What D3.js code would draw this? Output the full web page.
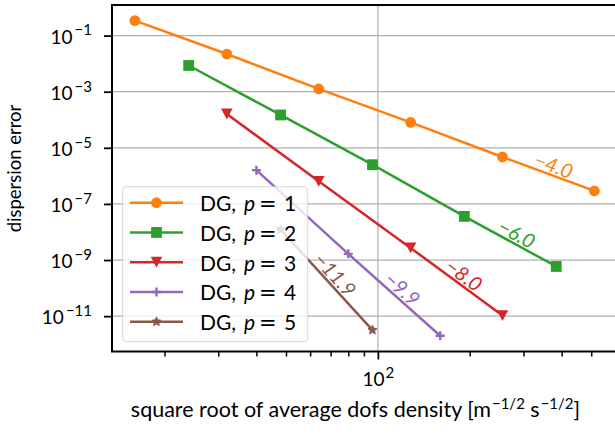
<!DOCTYPE html>
<html>
<head>
<meta charset="utf-8">
<script src="https://cdn.jsdelivr.net/npm/d3@7"></script>
<style>
body { margin: 0; background: #fff; }
text { font-family: Lato, "DejaVu Sans", sans-serif; fill: #000; }
</style>
</head>
<body>
<svg id="chart" width="615" height="435"></svg>
<script>
// values
const orders = [1, 2, 3, 4, 5];
const dofsP1 = [16, 32, 64, 128, 256, 512];
const errP1 = [3.4e-1, 2.2e-2, 1.26e-3, 8.1e-5, 4.7e-6, 2.9e-7];
const dofsP2 = [24, 48, 96, 192, 384];
const errP2 = [8.6e-3, 1.48e-4, 2.5e-6, 3.6e-8, 5.9e-10];
const dofsP3 = [32, 64, 128, 256];
const errP3 = [1.6e-4, 6.4e-7, 2.7e-9, 1.05e-11];
const dofsP4 = [40, 80, 160];
const errP4 = [1.6e-6, 1.66e-9, 2.0e-12];
const dofsP5 = [48, 96];
const errP5 = [1.23e-8, 3.2e-12];
const slopeLabels = ["\u22124.0", "\u22126.0", "\u22128.0", "\u22129.9", "\u221211.9"];
const yTickExps = [-1, -3, -5, -7, -9, -11];
const xTickExps = [2];
const xMinorTicks = [20, 30, 40, 50, 60, 70, 80, 90, 200, 300, 400, 500];

const colors = ["#ff7f0e", "#2ca02c", "#d62728", "#9467bd", "#8c564b"];
const markers = ["circle", "square", "tridown", "plus", "star"];

const dofs = [dofsP1, dofsP2, dofsP3, dofsP4, dofsP5];
const errs = [errP1, errP2, errP3, errP4, errP5];

const pLeft = 112, pRight = 617.5, pTop = 5, pBottom = 351.5;

const svg = d3.select("#chart");

const x = d3.scaleLog().domain([Math.pow(10, 1.129), Math.pow(10, 2.785)]).range([pLeft, pRight]);
const y = d3.scaleLog().domain([Math.pow(10, -12.26), Math.pow(10, 0.09)]).range([pBottom, pTop]);

// grid
const grid = svg.append("g");
grid.selectAll("line.gy").data(yTickExps).enter().append("line")
    .attr("x1", pLeft).attr("x2", pRight)
    .attr("y1", d => y(Math.pow(10, d))).attr("y2", d => y(Math.pow(10, d)))
    .attr("stroke", "#b0b0b0").attr("stroke-width", 1.2);
grid.selectAll("line.gx").data(xTickExps).enter().append("line")
    .attr("y1", pTop).attr("y2", pBottom)
    .attr("x1", d => x(Math.pow(10, d))).attr("x2", d => x(Math.pow(10, d)))
    .attr("stroke", "#b0b0b0").attr("stroke-width", 1.2);

function drawMarker(g, kind, color) {
    if (kind === "circle") {
        g.append("circle").attr("r", 5.4).attr("fill", color);
    } else if (kind === "square") {
        g.append("rect").attr("x", -5.4).attr("y", -5.4).attr("width", 10.8).attr("height", 10.8).attr("fill", color);
    } else if (kind === "tridown") {
        g.append("path").attr("d", "M-5.8,-5.4L5.8,-5.4L0,5.4Z").attr("fill", color);
    } else if (kind === "plus") {
        g.append("path").attr("d", "M-4.5,0H4.5M0,-4.5V4.5").attr("stroke", color).attr("stroke-width", 2.4);
    } else {
        const pts = [];
        for (let i = 0; i < 10; i++) {
            const r = i % 2 === 0 ? 4.8 : 2.2;
            const a = -Math.PI / 2 + i * Math.PI / 5;
            pts.push([r * Math.cos(a), r * Math.sin(a)]);
        }
        g.append("path").attr("d", "M" + pts.join("L") + "Z").attr("fill", color).attr("stroke", color).attr("stroke-width", 1);
    }
}

const line = d3.line().x(d => x(d[0])).y(d => y(d[1]));

orders.forEach((p, i) => {
    const pts = dofs[i].map((d, j) => [d, errs[i][j]]);
    const g = svg.append("g");
    g.append("path").datum(pts).attr("d", line)
        .attr("fill", "none").attr("stroke", colors[i]).attr("stroke-width", 2.5);
    pts.forEach(pt => {
        const m = g.append("g").attr("transform", `translate(${x(pt[0])},${y(pt[1])})`);
        drawMarker(m, markers[i], colors[i]);
    });
});

// slope labels on the last segment
orders.forEach((p, i) => {
    const n = dofs[i].length;
    const x0 = x(dofs[i][n - 2]), y0 = y(errs[i][n - 2]);
    const x1 = x(dofs[i][n - 1]), y1 = y(errs[i][n - 1]);
    const th = Math.atan2(y1 - y0, x1 - x0);
    const mx = (x0 + x1) / 2 + Math.sin(th) * 10.5 + Math.cos(th) * 2;
    const my = (y0 + y1) / 2 - Math.cos(th) * 10.5 + Math.sin(th) * 2;
    svg.append("text")
        .attr("transform", `translate(${mx},${my}) rotate(${th * 180 / Math.PI})`)
        .attr("text-anchor", "middle").attr("dominant-baseline", "central")
        .style("font-size", "20px").style("font-style", "italic").style("fill", colors[i])
        .text(slopeLabels[i]);
});

// axes
const yAxis = svg.append("g").attr("transform", `translate(${pLeft},0)`)
    .call(d3.axisLeft(y).tickValues(yTickExps.map(e => Math.pow(10, e))).tickSize(8).tickFormat(""));
yAxis.select(".domain").remove();
yAxis.selectAll(".tick line").attr("stroke-width", 1.8);
yAxis.selectAll(".tick").each(function(d) {
    const t = d3.select(this).append("text")
        .attr("x", -20).attr("y", 7.8).attr("text-anchor", "end")
        .style("font-size", "19px");
    t.append("tspan").text("10");
    t.append("tspan").attr("dx", 2).attr("dy", -8.5).style("font-size", "15px")
        .text("\u2212" + Math.abs(Math.round(Math.log10(d))));
});

const xAxis = svg.append("g").attr("transform", `translate(0,${pBottom})`)
    .call(d3.axisBottom(x).tickValues(xTickExps.map(e => Math.pow(10, e))).tickSize(8).tickFormat(""));
xAxis.select(".domain").remove();
xAxis.selectAll(".tick line").attr("stroke-width", 1.8);
xAxis.selectAll(".tick").each(function(d) {
    const t = d3.select(this).append("text")
        .attr("x", 0).attr("y", 34.5).attr("text-anchor", "middle")
        .style("font-size", "19px");
    t.append("tspan").text("10");
    t.append("tspan").attr("dx", 1).attr("dy", -8.5).style("font-size", "15px").text(Math.round(Math.log10(d)));
});
const xMinor = svg.append("g").attr("transform", `translate(0,${pBottom})`)
    .call(d3.axisBottom(x).tickValues(xMinorTicks).tickSize(5).tickFormat(""));
xMinor.select(".domain").remove();
xMinor.selectAll(".tick line").attr("stroke-width", 1.5);

svg.append("rect").attr("x", pLeft).attr("y", pTop)
    .attr("width", pRight - pLeft).attr("height", pBottom - pTop)
    .attr("fill", "none").attr("stroke", "#000").attr("stroke-width", 2);

// axis labels
const xl = svg.append("text").attr("x", 355.5).attr("y", 417).attr("text-anchor", "middle")
    .style("font-size", "21.5px");
xl.append("tspan").text("square root of average dofs density [m");
xl.append("tspan").attr("dx", 1).attr("dy", -8).style("font-size", "15px").text("\u22121/2");
xl.append("tspan").attr("dy", 8).text(" s");
xl.append("tspan").attr("dx", 1).attr("dy", -8).style("font-size", "15px").text("\u22121/2");
xl.append("tspan").attr("dy", 8).text("]");

svg.append("text").attr("transform", "translate(21,168.5) rotate(-90)")
    .attr("text-anchor", "middle").style("font-size", "18.5px")
    .text("dispersion error");

// legend
const lg = svg.append("g");
lg.append("rect").attr("x", 122.7).attr("y", 186.7).attr("width", 185).attr("height", 155)
    .attr("rx", 4).attr("fill", "#fff").attr("fill-opacity", 0.8)
    .attr("stroke", "#cccccc").attr("stroke-opacity", 0.8).attr("stroke-width", 1);
orders.forEach((p, i) => {
    const cy = 202.7 + i * 29.75;
    lg.append("line").attr("x1", 130).attr("x2", 183).attr("y1", cy).attr("y2", cy)
        .attr("stroke", colors[i]).attr("stroke-width", 2.5);
    drawMarker(lg.append("g").attr("transform", `translate(156.5,${cy})`), markers[i], colors[i]);
    const t = lg.append("text").attr("y", cy + 8.3).style("font-size", "21px");
    t.append("tspan").attr("x", 200).text("DG,");
    t.append("tspan").attr("x", 244).style("font-style", "italic").text("p");
    t.append("tspan").attr("x", 259).style("font-family", "'DejaVu Sans'").text("=");
    t.append("tspan").attr("x", 284).text(p);
});
</script>
</body>
</html>
